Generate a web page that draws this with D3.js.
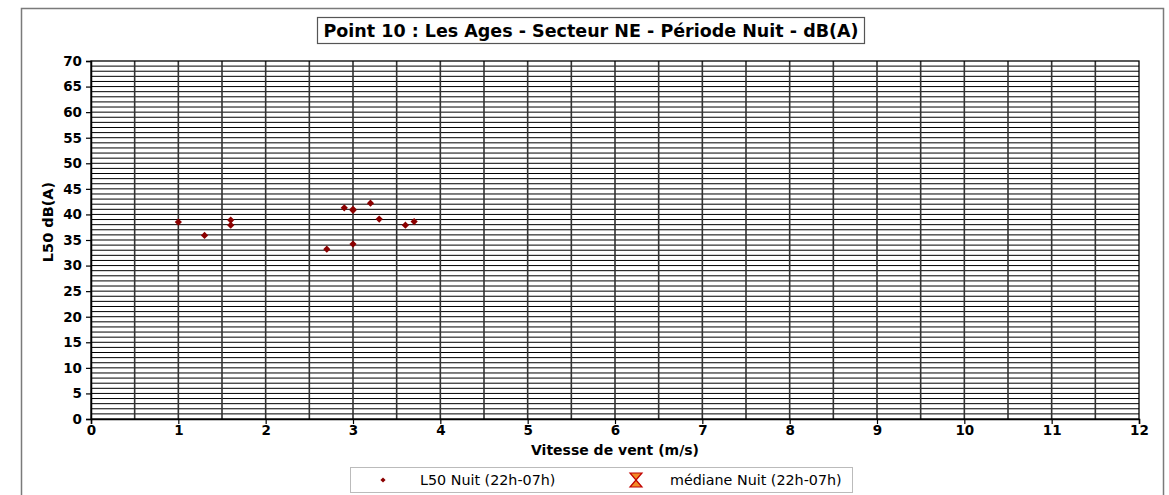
<!DOCTYPE html>
<html>
<head>
<meta charset="utf-8">
<script src="https://cdn.jsdelivr.net/npm/d3@7"></script>
<style>
  html, body { margin: 0; padding: 0; background: #fff; }
  svg { display: block; font-family: "DejaVu Sans", sans-serif; }
</style>
</head>
<body>
<svg id="chart" width="1169" height="495"></svg>
<script>
// Wind speed (m/s) of each night-time L50 measurement
const windSpeed = [1.0, 1.3, 1.6, 1.6, 2.7, 2.9, 3.0, 3.0, 3.0, 3.2, 3.3, 3.6, 3.7];
// L50 night levels, dB(A)
const l50Night = [38.5, 35.9, 38.9, 37.9, 33.2, 41.3, 41.0, 40.8, 34.2, 42.2, 39.1, 37.9, 38.6];
// Median per wind class (no class reaches the required count in this sector)
const medianWind = [];
const medianNight = [];

const xTicks = [0, 1, 2, 3, 4, 5, 6, 7, 8, 9, 10, 11, 12];
const yTicks = [0, 5, 10, 15, 20, 25, 30, 35, 40, 45, 50, 55, 60, 65, 70];

const titleText = "Point 10 : Les Ages - Secteur NE - Période Nuit - dB(A)";
const xTitle = "Vitesse de vent (m/s)";
const yTitle = "L50 dB(A)";
const legendLabels = ["L50 Nuit (22h-07h)", "médiane Nuit (22h-07h)"];

const svg = d3.select("#chart");

// outer chart frame
svg.append("rect")
  .attr("x", 21.5).attr("y", 8.5)
  .attr("width", 1142).attr("height", 495)
  .attr("fill", "#fff").attr("stroke", "#7a7a7a").attr("stroke-width", 1.5);

const plot = { left: 91, right: 1139, top: 61, bottom: 419 };

const x = d3.scaleLinear().domain([0, 12]).range([plot.left, plot.right]);
const y = d3.scaleLinear().domain([0, 70]).range([plot.bottom, plot.top]);

// horizontal grid every 1 dB
svg.append("g")
  .selectAll("line")
  .data(d3.range(1, 70))
  .join("line")
  .attr("x1", plot.left).attr("x2", plot.right)
  .attr("y1", d => y(d)).attr("y2", d => y(d))
  .attr("stroke", "#000").attr("stroke-width", 1);

// vertical grid every 0.5 m/s
svg.append("g")
  .selectAll("line")
  .data(d3.range(1, 24).map(i => i * 0.5))
  .join("line")
  .attr("x1", d => x(d)).attr("x2", d => x(d))
  .attr("y1", plot.top).attr("y2", plot.bottom)
  .attr("stroke", "#333").attr("stroke-width", 1.6);

// plot border
svg.append("rect")
  .attr("x", plot.left).attr("y", plot.top)
  .attr("width", plot.right - plot.left).attr("height", plot.bottom - plot.top)
  .attr("fill", "none").attr("stroke", "#000").attr("stroke-width", 1.3);

// axes
const yAxis = svg.append("g")
  .attr("transform", `translate(${plot.left},0)`)
  .call(d3.axisLeft(y).tickValues(yTicks).tickSize(5).tickPadding(4).tickFormat(d3.format("d")));
const xAxis = svg.append("g")
  .attr("transform", `translate(0,${plot.bottom})`)
  .call(d3.axisBottom(x).tickValues(xTicks).tickSize(5).tickPadding(1).tickFormat(d3.format("d")));

[xAxis, yAxis].forEach(g => {
  g.select(".domain").attr("stroke", "#000").attr("stroke-width", 1.5);
  g.selectAll(".tick line").attr("stroke", "#000").attr("stroke-width", 1.2);
  g.selectAll(".tick text")
    .attr("fill", "#000")
    .style("font-family", "'DejaVu Sans', sans-serif")
    .style("font-size", "13.5px")
    .style("font-weight", "bold");
});

// axis titles
svg.append("text")
  .attr("x", (plot.left + plot.right) / 2).attr("y", 455)
  .attr("text-anchor", "middle")
  .style("font-size", "14px").style("font-weight", "bold")
  .text(xTitle);

svg.append("text")
  .attr("transform", `translate(53,222) rotate(-90)`)
  .attr("text-anchor", "middle")
  .style("font-size", "14.5px").style("font-weight", "bold")
  .text(yTitle);

// title in a box
const titleBox = svg.append("rect");
const title = svg.append("text")
  .attr("x", 591).attr("y", 37)
  .attr("text-anchor", "middle")
  .style("font-size", "17.5px").style("font-weight", "bold")
  .text(titleText);
const tb = title.node().getBBox();
titleBox
  .attr("x", Math.round(tb.x - 6) + 0.5).attr("y", 17.5)
  .attr("width", Math.round(tb.width + 12)).attr("height", 26)
  .attr("fill", "#fff").attr("stroke", "#555").attr("stroke-width", 1.2);

// square diamond marker of half-diagonal r
const diamondPath = r => `M0,${-r} L${r},0 L0,${r} L${-r},0 Z`;

// L50 points
svg.append("g")
  .selectAll("path")
  .data(windSpeed.map((w, i) => [w, l50Night[i]]))
  .join("path")
  .attr("transform", d => `translate(${x(d[0])},${y(d[1])})`)
  .attr("d", diamondPath(3.6))
  .attr("fill", "#8b0000");

// medians (hourglass markers)
const hourglass = "M-6,-7 L6,-7 L-6,7 L6,7 Z";
svg.append("g")
  .selectAll("path")
  .data(medianWind.map((w, i) => [w, medianNight[i]]))
  .join("path")
  .attr("transform", d => `translate(${x(d[0])},${y(d[1])})`)
  .attr("d", hourglass)
  .attr("fill", "#f28c28").attr("stroke", "#c00000").attr("stroke-width", 1.2);

// legend
const legend = svg.append("g");
legend.append("rect")
  .attr("x", 350.5).attr("y", 467.5).attr("width", 502).attr("height", 25)
  .attr("fill", "#fff").attr("stroke", "#bbb").attr("stroke-width", 1);
legend.append("path")
  .attr("transform", "translate(383,480)")
  .attr("d", diamondPath(2.6))
  .attr("fill", "#8b0000");
legend.append("text")
  .attr("x", 420).attr("y", 485)
  .style("font-size", "14.3px")
  .text(legendLabels[0]);
legend.append("path")
  .attr("transform", "translate(636,480)")
  .attr("d", hourglass)
  .attr("fill", "#f28c28").attr("stroke", "#c00000").attr("stroke-width", 1.2);
legend.append("text")
  .attr("x", 670).attr("y", 485)
  .style("font-size", "14.3px")
  .text(legendLabels[1]);
</script>
</body>
</html>
